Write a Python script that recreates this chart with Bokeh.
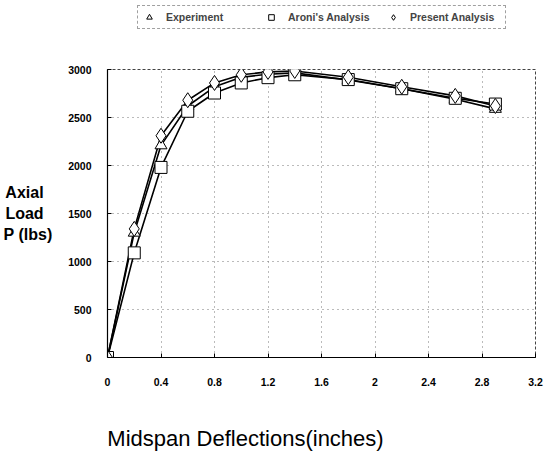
from bokeh.plotting import figure
from bokeh.models import Range1d, Legend, LegendItem, FixedTicker, LinearAxis
from bokeh.layouts import column
from bokeh.embed import file_html
from bokeh.resources import INLINE

deflection = [0, 0.2, 0.4, 0.6, 0.8, 1.0, 1.2, 1.4, 1.8, 2.2, 2.6, 2.9]
experiment = [0, 1300, 2210, 2620, 2820, 2920, 2950, 2965, 2890, 2800, 2690, 2590]
aroni = [0, 1090, 1980, 2565, 2755, 2860, 2915, 2945, 2895, 2800, 2700, 2640]
present = [0, 1340, 2310, 2680, 2860, 2945, 2975, 2985, 2920, 2820, 2725, 2620]
x_ticks = [0, 0.4, 0.8, 1.2, 1.6, 2, 2.4, 2.8, 3.2]
y_ticks = [0, 500, 1000, 1500, 2000, 2500, 3000]
series_names = ["Experiment", "Aroni's Analysis", "Present Analysis"]
y_title_lines = ["Axial\u00a0\u00a0", "Load\u00a0\u00a0", "P (lbs)"]
x_title = "Midspan Deflections(inches)"

# ---------- legend strip ----------
lg = figure(width=544, height=35, output_backend="svg", toolbar_location=None,
            x_range=Range1d(0, 1), y_range=Range1d(0, 1),
            x_axis_location=None, y_axis_location=None,
            min_border=0, min_border_left=0, min_border_right=0, min_border_top=0, min_border_bottom=0)
lg.outline_line_color = None
lg.grid.visible = False
lg.background_fill_color = "white"
lg.border_fill_color = "white"
# legend-only renderers: one point placed outside the visible range
d1 = lg.scatter([-10], [-10], marker="triangle", size=12, fill_color="white", line_color="black", line_width=1)
d2 = lg.scatter([-10], [-10], marker="square", size=12, fill_color="white", line_color="black", line_width=1)
d3 = lg.scatter([-10], [-10], marker="diamond", size=15, fill_color="white", line_color="black", line_width=1)
legend = Legend(items=[
    LegendItem(label=series_names[0], renderers=[d1]),
    LegendItem(label=series_names[1], renderers=[d2]),
    LegendItem(label=series_names[2], renderers=[d3]),
], orientation="horizontal", location=(30, 6))
legend.label_text_font = "Liberation Sans"
legend.label_text_font_style = "bold"
legend.label_text_font_size = "10.5px"
legend.glyph_width = 14
legend.glyph_height = 14
legend.label_standoff = 10
legend.label_width = 91
legend.spacing = 7
legend.padding = 4
legend.margin = 0
legend.border_line_color = "#444444"
legend.border_line_dash = "3 2"
legend.background_fill_color = "white"
lg.add_layout(legend)

# ---------- main chart ----------
p = figure(width=544, height=418, output_backend="svg", toolbar_location=None,
           x_range=Range1d(0, 3.2), y_range=Range1d(0, 3000),
           min_border_left=107, min_border_right=9, min_border_top=34, min_border_bottom=96)
p.extra_x_ranges = {"title": Range1d(0, 428)}
p.background_fill_color = "white"
p.border_fill_color = "white"
p.outline_line_color = "#444444"
p.outline_line_dash = "3 2"
p.outline_line_width = 1

for ax in (p.xaxis[0], p.yaxis[0]):
    ax.axis_line_color = "black"
    ax.axis_line_width = 1.2
    ax.major_tick_in = 4
    ax.major_tick_out = 0
    ax.minor_tick_line_color = None
    ax.major_label_text_font = "Liberation Sans"
    ax.major_label_text_font_style = "bold"
    ax.major_label_text_font_size = "10.5px"
    ax.major_label_text_color = "black"
p.xaxis.ticker = FixedTicker(ticks=x_ticks)
p.yaxis.ticker = FixedTicker(ticks=y_ticks)
p.xaxis.major_label_overrides = {0: "0", 2: "2"}
p.xaxis.major_label_standoff = 20
p.yaxis.major_label_standoff = 16

ytitle = LinearAxis(ticker=FixedTicker(ticks=[1719, 1500, 1281]),
                    major_label_overrides={1719: y_title_lines[0], 1500: y_title_lines[1], 1281: y_title_lines[2]})
ytitle.axis_line_color = None
ytitle.major_tick_line_color = None
ytitle.minor_tick_line_color = None
ytitle.major_label_text_font = "Liberation Sans"
ytitle.major_label_text_font_style = "bold"
ytitle.major_label_text_font_size = "16px"
ytitle.major_label_text_color = "black"
ytitle.major_label_standoff = 7
p.add_layout(ytitle, "left")

xtitle = LinearAxis(x_range_name="title", ticker=FixedTicker(ticks=[138]),
                    major_label_overrides={138: x_title})
xtitle.axis_line_color = None
xtitle.major_tick_line_color = None
xtitle.minor_tick_line_color = None
xtitle.major_label_text_font = "Liberation Sans"
xtitle.major_label_text_font_size = "22px"
xtitle.major_label_text_color = "black"
xtitle.major_label_standoff = 31
p.add_layout(xtitle, "below")

p.grid.grid_line_color = "#777777"
p.grid.grid_line_dash = "1 4"
p.grid.grid_line_width = 1

p.line(deflection, experiment, line_color="black", line_width=1.6)
p.line(deflection, aroni, line_color="black", line_width=1.6)
p.line(deflection, present, line_color="black", line_width=1.6)
p.scatter(deflection, experiment, marker="triangle", size=12, fill_color="white", line_color="black", line_width=1)
p.scatter(deflection, aroni, marker="square", size=12, fill_color="white", line_color="black", line_width=1)
p.scatter(deflection, present, marker="diamond", size=15, fill_color="white", line_color="black", line_width=1)

layout = column(lg, p, spacing=0)
open("out.html", "w").write(file_html(layout, INLINE))
